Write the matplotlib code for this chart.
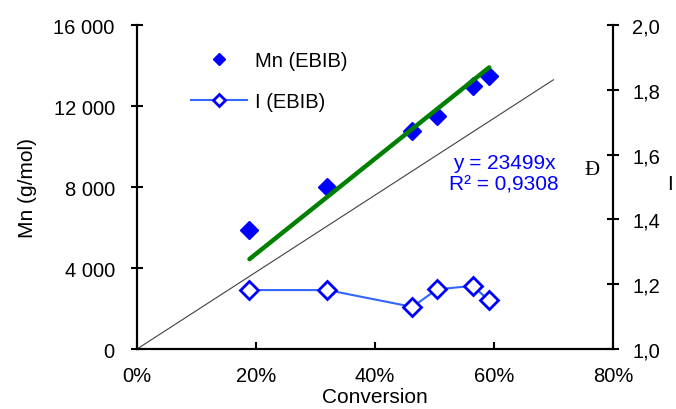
import matplotlib.pyplot as plt
from matplotlib.ticker import FuncFormatter

plt.rcParams['font.family'] = ['Liberation Sans', 'DejaVu Sans']

# conversion (fraction) and Mn (g/mol) for EBIB
conversion = [0.189, 0.320, 0.463, 0.504, 0.564, 0.592]
mn_values = [5900, 8000, 10780, 11530, 12970, 13470]
# dispersity values
disp_values = [1.182, 1.182, 1.13, 1.184, 1.195, 1.15]

# theoretical line
theo_x = [0.0, 0.70]
theo_y = [0, 13300]

slope = 23499
r2_text = "0,9308"

fs = 14.5

fig = plt.figure(figsize=(6.76, 4.10), dpi=100)
ax1 = fig.add_axes([0.2027, 0.1463, 0.704, 0.790])
ax2 = ax1.twinx()

ax1.plot(theo_x, theo_y, color="#404040", lw=0.8, zorder=1)

# linear trendline through origin
fit_x = [min(conversion), max(conversion)]
fit_y = [slope * v for v in fit_x]
ax1.plot(fit_x, fit_y, color="#008000", lw=3.2, solid_capstyle="round", zorder=3)

ax1.plot(conversion, mn_values, "D", color="#0000FF", ms=9.5, zorder=2,
         label="Mn (EBIB)")

ax2.plot(conversion, disp_values, "-D", color="#3366FF", lw=1.5, ms=9.5,
         mfc="white", mec="#0000FF", mew=2, label="I (EBIB)")

ax1.set_xlim(0, 0.8)
ax1.set_ylim(0, 16000)
ax2.set_ylim(1.0, 2.0)
ax1.set_xticks([0, 0.2, 0.4, 0.6, 0.8])
ax1.set_yticks([0, 4000, 8000, 12000, 16000])
ax2.set_yticks([1.0, 1.2, 1.4, 1.6, 1.8, 2.0])

ax1.xaxis.set_major_formatter(FuncFormatter(lambda v, p: f"{v*100:.0f}%"))
ax1.yaxis.set_major_formatter(FuncFormatter(lambda v, p: f"{v:,.0f}".replace(",", " ")))
ax2.yaxis.set_major_formatter(FuncFormatter(lambda v, p: f"{v:.1f}".replace(".", ",")))

for a in (ax1, ax2):
    for s in a.spines.values():
        s.set_linewidth(1.5)
    a.spines["top"].set_visible(False)
ax1.tick_params(axis="y", direction="inout", length=8, width=1.5, labelsize=fs, pad=12)
ax1.tick_params(axis="x", direction="in", length=5, width=1.5, labelsize=fs, pad=12)
ax2.tick_params(axis="y", direction="inout", length=8, width=1.5, labelsize=fs, pad=10)

ax1.set_ylabel("Mn (g/mol)", fontsize=15, labelpad=12)
ax1.set_xlabel("Conversion", fontsize=15, labelpad=2)
# right axis label, placed by hand so it stays inside the figure
fig.text(670 / 676, 1 - 185 / 410, "I", fontsize=15, ha="center", va="center")

ax1.text(0.531, 9235, f"y = {slope}x", color="#0000FF", fontsize=15, va="center")
ax1.text(0.524, 8150, f"R² = {r2_text}", color="#0000FF", fontsize=15, va="center")
ax1.text(0.752, 8890, "Đ", color="black", fontsize=15, va="center",
         family=["Liberation Serif", "DejaVu Serif"])

h1, l1 = ax1.get_legend_handles_labels()
h2, l2 = ax2.get_legend_handles_labels()
ax1.legend(h1 + h2, l1 + l2, loc="upper left", bbox_to_anchor=(0.075, 0.975),
           frameon=False, fontsize=fs, handlelength=2.8, handletextpad=0.4,
           labelspacing=1.1, markerscale=0.65)

fig.savefig("out.png", dpi=100)
